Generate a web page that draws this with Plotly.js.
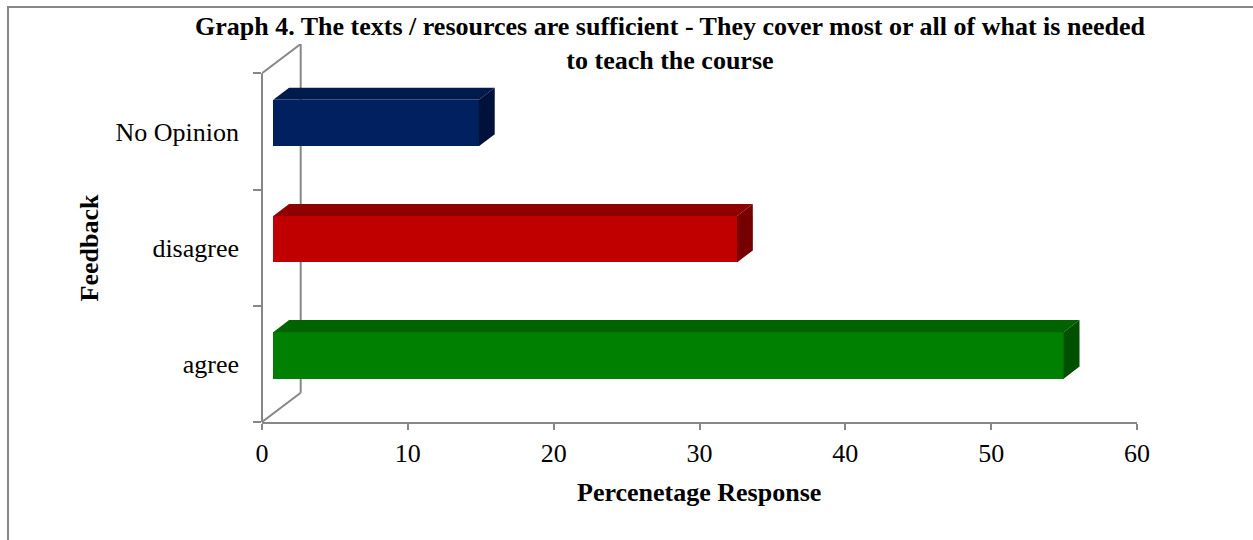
<!DOCTYPE html>
<html>
<head>
<meta charset="utf-8">
<script src="https://cdn.plot.ly/plotly-3.0.1.min.js"></script>
<style>
  html, body { margin: 0; padding: 0; background: #ffffff; }
  #chart { width: 1253px; height: 540px; }
</style>
</head>
<body>
<div id="chart"></div>
<script>
// ---- data ----
const categories = ['agree', 'disagree', 'No Opinion'];
const values = [54.2, 31.8, 14.1];
const xTickValues = [0, 10, 20, 30, 40, 50, 60];
const chartTitle = 'Graph 4. The texts / resources are sufficient - They cover most or all of what is needed<br>to teach the course';
const xTitle = 'Percenetage Response';
const yTitle = 'Feedback';

// ---- style ----
const frontColors = ['#008000', '#c00000', '#002060'];
const topColors   = ['#006300', '#8f0000', '#001a4c'];
const sideColors  = ['#005000', '#760000', '#00123a'];
const axisGray = '#878787';
const FONT = 'Liberation Serif, Times New Roman, serif';

// 3D oblique depth of the floor/wall (in axis units)
const DX = 2.654;     // depth along x
const DY = 0.2522;    // depth along y (category units)
const FRONT = 0.29;   // depth fraction of bar front face
const BACK = 0.70;    // depth fraction of bar back face
const HALF = 0.2;     // half bar thickness (category units)

const x0 = FRONT * DX;
const ddx = (BACK - FRONT) * DX;
const ddy = (BACK - FRONT) * DY;

const traces = [];
// front faces as a real bar trace
traces.push({
  type: 'bar',
  orientation: 'h',
  x: values,
  y: categories.map((c, i) => i + FRONT * DY),
  base: x0,
  width: 2 * HALF,
  marker: { color: frontColors, line: { width: 0 } },
  hoverinfo: 'skip',
  showlegend: false
});
// top and side faces
categories.forEach((c, i) => {
  const v = values[i];
  const yc = i + FRONT * DY;
  const yt = yc + HALF, yb = yc - HALF;
  traces.push({
    type: 'scatter', mode: 'lines',
    x: [x0, x0 + v, x0 + v + ddx, x0 + ddx, x0],
    y: [yt, yt, yt + ddy, yt + ddy, yt],
    fill: 'toself', fillcolor: topColors[i],
    line: { width: 0, color: topColors[i] },
    hoverinfo: 'skip', showlegend: false
  });
  traces.push({
    type: 'scatter', mode: 'lines',
    x: [x0 + v, x0 + v + ddx, x0 + v + ddx, x0 + v, x0 + v],
    y: [yb, yb + ddy, yt + ddy, yt, yb],
    fill: 'toself', fillcolor: sideColors[i],
    line: { width: 0, color: sideColors[i] },
    hoverinfo: 'skip', showlegend: false
  });
});

const nCat = categories.length;
const yMin = -0.5, yMax = nCat - 0.5;
const boundaries = [];
for (let k = 0; k <= nCat; k++) boundaries.push(k - 0.5);

const lineStyle = { color: axisGray, width: 2 };
const shapes = [
  // front vertical (value axis origin line)
  { type: 'line', layer: 'below', xref: 'paper', yref: 'y', x0: 0, x1: 0, y0: yMin, y1: yMax, line: lineStyle },
  // wall top diagonal
  { type: 'line', layer: 'below', xref: 'x', yref: 'y', x0: 0, x1: DX, y0: yMax, y1: yMax + DY, line: lineStyle },
  // floor diagonal
  { type: 'line', layer: 'below', xref: 'x', yref: 'y', x0: 0, x1: DX, y0: yMin, y1: yMin + DY, line: lineStyle },
  // back vertical
  { type: 'line', layer: 'below', xref: 'x', yref: 'y', x0: DX, x1: DX, y0: yMin + DY, y1: yMax + DY, line: lineStyle },
  // chart area border
  { type: 'rect', layer: 'below', xref: 'paper', yref: 'paper', x0: -0.2903, x1: 1.2, y0: -0.45, y1: 1.0979,
    line: { color: axisGray, width: 2 }, fillcolor: 'rgba(0,0,0,0)' }
];

const layout = {
  width: 1253, height: 540,
  margin: { l: 262, r: 116, t: 44, b: 118, pad: 0 },
  paper_bgcolor: '#ffffff', plot_bgcolor: '#ffffff',
  showlegend: false,
  hovermode: false,
  bargap: 0,
  font: { family: FONT, color: '#000000', size: 26 },
  title: {
    text: chartTitle,
    font: { family: FONT, size: 26, color: '#000000', weight: 'bold' },
    xref: 'container', x: 0.5347, xanchor: 'center',
    yref: 'container', y: 0.935, yanchor: 'top'
  },
  xaxis: {
    range: [0, 60],
    tickmode: 'array', tickvals: xTickValues,
    ticks: 'outside', ticklen: 6, tickwidth: 2, tickcolor: axisGray,
    showline: true, linecolor: axisGray, linewidth: 2,
    showgrid: false, zeroline: false, fixedrange: true,
    tickfont: { family: FONT, size: 26, color: '#000000' },
    ticklabelstandoff: 1
  },
  yaxis: {
    range: [yMin, yMax + DY],
    tickmode: 'array', tickvals: categories.map((c, i) => i), ticktext: categories,
    ticks: '',
    minor: { tickmode: 'array', tickvals: boundaries, ticks: 'outside', ticklen: 8, tickwidth: 2, tickcolor: axisGray, showgrid: false },
    showline: false, showgrid: false, zeroline: false, fixedrange: true,
    tickfont: { family: FONT, size: 26, color: '#000000' },
    ticklabelstandoff: 22
  },
  shapes: shapes,
  annotations: [
    { text: xTitle, xref: 'paper', yref: 'paper', x: 0.4989, y: -0.1878, xanchor: 'center', yanchor: 'middle',
      showarrow: false, font: { family: FONT, size: 26, color: '#000000', weight: 'bold' } },
    { text: yTitle, xref: 'paper', yref: 'paper', x: -0.1966, y: 0.4616, xanchor: 'center', yanchor: 'middle',
      textangle: -90, showarrow: false, font: { family: FONT, size: 26, color: '#000000', weight: 'bold' } }
  ]
};

Plotly.newPlot('chart', traces, layout, { displayModeBar: false, staticPlot: true });
</script>
</body>
</html>
